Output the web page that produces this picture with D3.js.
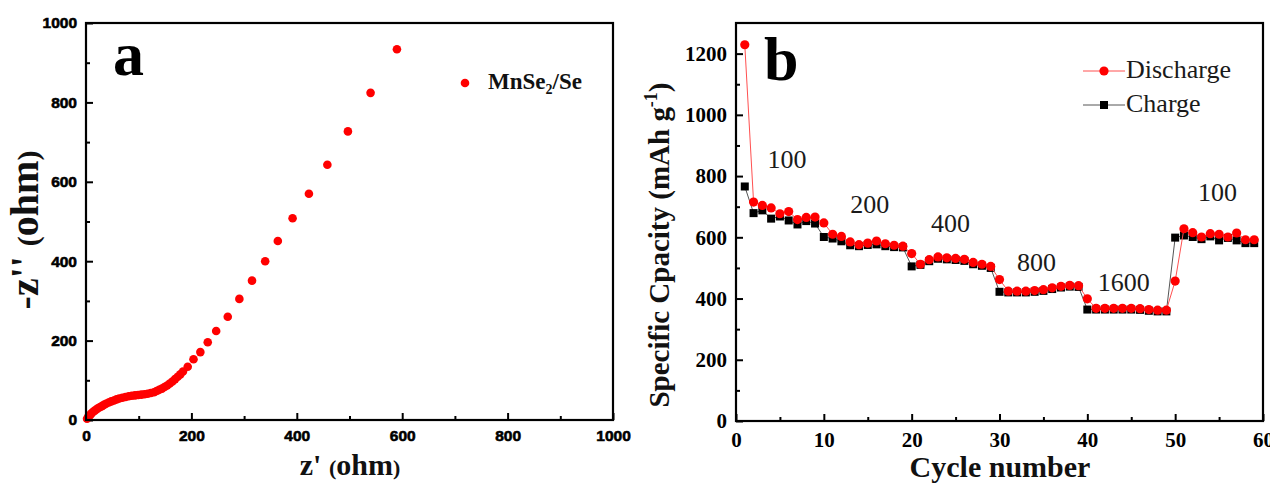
<!DOCTYPE html>
<html>
<head>
<meta charset="utf-8">
<script src="https://cdn.jsdelivr.net/npm/d3@7"></script>
<style>
  body { margin: 0; background: #fff; }
  svg { display: block; }
  .serif { font-family: "Liberation Serif", "Times New Roman", serif; }
</style>
</head>
<body>
<svg id="chart" width="1270" height="491"></svg>
<script>
// ---- panel a: Nyquist plot ----
const zReal = [2, 4, 6, 8, 10, 13, 16, 19, 22, 26, 30, 34, 38, 43, 48, 53, 58, 63, 69, 75,
               81, 87, 93, 99, 105, 111, 117, 123, 129, 134, 139, 144, 149, 154, 159, 164, 169, 174, 179, 184,
               193, 204, 217, 231, 247, 269, 291, 315, 340, 364, 392, 423, 458, 497, 540, 590];
const zImag = [3, 7, 10, 13, 16, 20, 23, 26, 29, 32, 35, 38, 41, 44, 47, 49, 52, 54, 56, 58,
               60, 61, 62, 63, 64, 65, 66, 68, 70, 73, 76, 79, 83, 87, 92, 97, 103, 109, 115, 122,
               134, 153, 171, 196, 224, 260, 305, 351, 400, 451, 508, 570, 643, 727, 824, 934];
const zTicks = [0, 200, 400, 600, 800, 1000];
const zMinor = [100, 300, 500, 700, 900];

// ---- panel b: rate capability ----
const cycles = [1, 2, 3, 4, 5, 6, 7, 8, 9, 10, 11, 12, 13, 14, 15, 16, 17, 18, 19, 20,
                21, 22, 23, 24, 25, 26, 27, 28, 29, 30, 31, 32, 33, 34, 35, 36, 37, 38, 39, 40,
                41, 42, 43, 44, 45, 46, 47, 48, 49, 50, 51, 52, 53, 54, 55, 56, 57, 58, 59];
const discharge = [1229, 715, 704, 696, 677, 684, 658, 665, 666, 647,
                   610, 603, 585, 576, 581, 588, 579, 574, 571, 547,
                   512, 527, 536, 533, 531, 528, 518, 512, 505, 462,
                   424, 424, 424, 426, 429, 435, 440, 443, 442, 399,
                   368, 368, 368, 368, 368, 367, 364, 362, 362, 457,
                   628, 615, 601, 612, 610, 601, 614, 592, 592];
const charge = [766, 679, 688, 661, 668, 655, 642, 653, 645, 601,
                596, 587, 574, 571, 575, 577, 571, 568, 567, 505,
                510, 522, 530, 528, 526, 523, 512, 507, 500, 422,
                420, 420, 420, 422, 425, 431, 436, 439, 438, 364,
                364, 364, 364, 364, 364, 363, 360, 358, 358, 599,
                606, 601, 594, 603, 590, 598, 590, 581, 581];
// current density labels (mA g-1) and where they sit, in cycle / capacity units
const rateLabels = ['100', '200', '400', '800', '1600', '100'];
const rateAt = [[3.6, 826], [13, 679], [22.2, 617], [32, 490], [41.2, 425], [52.6, 719]];
const cycleTicks = [0, 10, 20, 30, 40, 50, 60];
const cycleMinor = [5, 15, 25, 35, 45, 55];
const capTicks = [0, 200, 400, 600, 800, 1000, 1200];
const capMinor = [100, 300, 500, 700, 900, 1100];

const svg = d3.select('#chart');

const styleAxis = (g, font) => {
    g.select('.domain').remove();
    g.selectAll('line').attr('stroke', '#000').attr('stroke-width', 2);
    g.selectAll('text').attr('fill', '#000').style('font-family', font)
     .style('font-weight', '700');
};

const drawFrame = (x0, y0, x1, y1) => {
    svg.append('rect')
       .attr('x', x0).attr('y', y0)
       .attr('width', x1 - x0).attr('height', y1 - y0)
       .attr('fill', 'none').attr('stroke', '#000').attr('stroke-width', 2.2);
};

// ================= panel a =================
const ax = d3.scaleLinear().domain([0, 1000]).range([86, 613]);
const ay = d3.scaleLinear().domain([0, 1000]).range([420, 23]);
const sans = '"Liberation Sans", Arial, sans-serif';
const plain = d3.format('d');

// the sans labels in the original are heavy, so give them a thin outline
const heavy = sel => sel.style('font-size', '15.5px')
    .attr('stroke', '#000').attr('stroke-width', 0.6);

svg.append('g').attr('transform', 'translate(0,420)')
   .call(d3.axisBottom(ax).tickValues(zTicks).tickFormat(plain).tickSize(-7).tickPadding(10))
   .call(g => styleAxis(g, sans))
   .selectAll('text').call(heavy);
svg.append('g').attr('transform', 'translate(0,420)')
   .call(d3.axisBottom(ax).tickValues(zMinor).tickSize(-4).tickFormat(''))
   .call(g => styleAxis(g, sans));
svg.append('g').attr('transform', 'translate(86,0)')
   .call(d3.axisLeft(ay).tickValues(zTicks).tickFormat(plain).tickSize(-7).tickPadding(9))
   .call(g => styleAxis(g, sans))
   .selectAll('text').call(heavy);
svg.append('g').attr('transform', 'translate(86,0)')
   .call(d3.axisLeft(ay).tickValues(zMinor).tickSize(-4).tickFormat(''))
   .call(g => styleAxis(g, sans));

svg.append('g').selectAll('circle')
   .data(zReal)
   .enter()
   .append('circle')
   .attr('cx', d => ax(d))
   .attr('cy', (d, i) => ay(zImag[i]))
   .attr('r', 4.3)
   .attr('fill', '#ff0000');

drawFrame(86, 23, 613, 420);

svg.append('text').attr('class', 'serif')
   .attr('x', 113).attr('y', 75)
   .style('font-size', '62px').style('font-weight', 'bold')
   .text('a');

// legend a
svg.append('circle').attr('cx', 465).attr('cy', 83).attr('r', 4.3).attr('fill', '#ff0000');
const legA = svg.append('text').attr('class', 'serif')
   .attr('x', 488).attr('y', 89)
   .style('font-size', '23px').style('font-weight', 'bold').attr('fill', '#111');
legA.append('tspan').text('MnSe');
legA.append('tspan').attr('dy', 5).style('font-size', '14px').text('2');
legA.append('tspan').attr('dy', -5).text('/Se');

// axis titles a
const xtA = svg.append('text').attr('class', 'serif')
   .attr('x', 350).attr('y', 475).attr('text-anchor', 'middle')
   .style('font-weight', 'bold').style('font-size', '30px').attr('fill', '#111');
xtA.append('tspan').text("z' ");
xtA.append('tspan').style('font-size', '22px').text('(');
xtA.append('tspan').text('ohm');
xtA.append('tspan').style('font-size', '22px').text(')');

const ytA = svg.append('text').attr('class', 'serif')
   .attr('transform', 'translate(38,230) rotate(-90)').attr('text-anchor', 'middle')
   .style('font-weight', 'bold').style('font-size', '40px').attr('fill', '#111');
ytA.append('tspan').text("-z'' ");
ytA.append('tspan').style('font-size', '30px').text('(');
ytA.append('tspan').text('ohm');
ytA.append('tspan').style('font-size', '30px').text(')');

// ================= panel b =================
const bx = d3.scaleLinear().domain([0, 60]).range([736, 1263]);
const by = d3.scaleLinear().domain([0, 1300]).range([421, 23]);
const serif = '"Liberation Serif", "Times New Roman", serif';

svg.append('g').attr('transform', 'translate(0,421)')
   .call(d3.axisBottom(bx).tickValues(cycleTicks).tickFormat(plain).tickSize(-7).tickPadding(11))
   .call(g => styleAxis(g, serif))
   .selectAll('text').style('font-size', '21px');
svg.append('g').attr('transform', 'translate(0,421)')
   .call(d3.axisBottom(bx).tickValues(cycleMinor).tickSize(-4).tickFormat(''))
   .call(g => styleAxis(g, serif));
svg.append('g').attr('transform', 'translate(736,0)')
   .call(d3.axisLeft(by).tickValues(capTicks).tickFormat(plain).tickSize(-7).tickPadding(9))
   .call(g => styleAxis(g, serif))
   .selectAll('text').style('font-size', '21px');
svg.append('g').attr('transform', 'translate(736,0)')
   .call(d3.axisLeft(by).tickValues(capMinor).tickSize(-4).tickFormat(''))
   .call(g => styleAxis(g, serif));

const lineFor = values => d3.line()
    .x((d, i) => bx(cycles[i]))
    .y(d => by(d))(values);

svg.append('path').attr('d', lineFor(charge))
   .attr('fill', 'none').attr('stroke', '#555').attr('stroke-width', 1);
svg.append('g').selectAll('rect')
   .data(charge)
   .enter()
   .append('rect')
   .attr('x', (d, i) => bx(cycles[i]) - 4)
   .attr('y', d => by(d) - 4)
   .attr('width', 8).attr('height', 8)
   .attr('fill', '#000');

svg.append('path').attr('d', lineFor(discharge))
   .attr('fill', 'none').attr('stroke', '#ff5050').attr('stroke-width', 1);
svg.append('g').selectAll('circle')
   .data(discharge)
   .enter()
   .append('circle')
   .attr('cx', (d, i) => bx(cycles[i]))
   .attr('cy', d => by(d))
   .attr('r', 4.6)
   .attr('fill', '#ff0000');

drawFrame(736, 23, 1263, 421);

svg.append('text').attr('class', 'serif')
   .attr('x', 764).attr('y', 80)
   .style('font-size', '62px').style('font-weight', 'bold')
   .text('b');

// rate labels
svg.append('g').selectAll('text')
   .data(rateLabels)
   .enter()
   .append('text')
   .attr('class', 'serif')
   .attr('x', (d, i) => bx(rateAt[i][0]))
   .attr('y', (d, i) => by(rateAt[i][1]))
   .style('font-size', '26px').attr('fill', '#1a1a1a')
   .text(d => d);

// legend b
const legB = svg.append('g');
legB.append('line').attr('x1', 1083).attr('x2', 1125).attr('y1', 71).attr('y2', 71)
    .attr('stroke', '#ff5050').attr('stroke-width', 1);
legB.append('circle').attr('cx', 1104).attr('cy', 71).attr('r', 4.6).attr('fill', '#ff0000');
legB.append('text').attr('class', 'serif').attr('x', 1126).attr('y', 78)
    .style('font-size', '26px').attr('fill', '#1a1a1a').text('Discharge');
legB.append('line').attr('x1', 1083).attr('x2', 1125).attr('y1', 105).attr('y2', 105)
    .attr('stroke', '#555').attr('stroke-width', 1);
legB.append('rect').attr('x', 1100).attr('y', 101).attr('width', 8).attr('height', 8).attr('fill', '#000');
legB.append('text').attr('class', 'serif').attr('x', 1126).attr('y', 112)
    .style('font-size', '26px').attr('fill', '#1a1a1a').text('Charge');

// axis titles b
svg.append('text').attr('class', 'serif')
   .attr('x', 1000).attr('y', 477).attr('text-anchor', 'middle')
   .style('font-weight', 'bold').style('font-size', '30px').attr('fill', '#111')
   .text('Cycle number');

const ytB = svg.append('text').attr('class', 'serif')
   .attr('transform', 'translate(669,245) rotate(-90)').attr('text-anchor', 'middle')
   .style('font-weight', 'bold').style('font-size', '29px').attr('fill', '#111');
ytB.append('tspan').text('Specific Cpacity (mAh g');
ytB.append('tspan').attr('dy', -12).style('font-size', '18px').text('-1');
ytB.append('tspan').attr('dy', 12).text(')');
</script>
</body>
</html>
